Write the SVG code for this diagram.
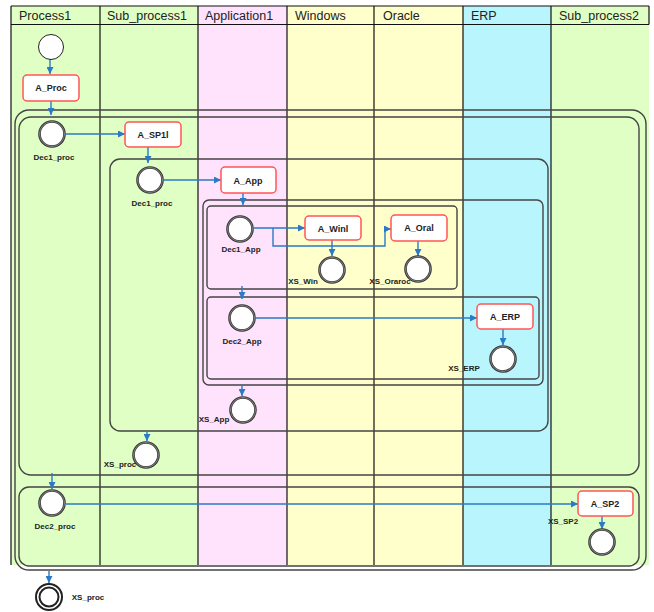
<svg xmlns="http://www.w3.org/2000/svg" width="654" height="612" viewBox="0 0 654 612">
<defs>
<style>
.hdr{font-family:"Liberation Sans",Arial,sans-serif;font-size:12.5px;fill:#222}
.lane{stroke:#111;stroke-width:1.2}
.grp{fill:none;stroke:#444;stroke-width:1.4}
.grp2{fill:none;stroke:#999;stroke-width:1}
.task rect{fill:#fff;stroke:#f55;stroke-width:1.5}
.task text{font-family:"Liberation Sans",Arial,sans-serif;font-size:9px;font-weight:bold;fill:#222;text-anchor:middle}
.ev{fill:#fff;stroke:#333;stroke-width:2.6}
.evi{fill:none;stroke:#999;stroke-width:0.8}
.lbl{font-family:"Liberation Sans",Arial,sans-serif;font-size:8px;font-weight:bold;fill:#222;text-anchor:middle}
.cn{fill:none;stroke:#2a7ac6;stroke-width:1.4}
</style>
<marker id="ah" viewBox="0 0 10 10" refX="10" refY="5" markerWidth="7" markerHeight="7" markerUnits="userSpaceOnUse" orient="auto"><path d="M0,0L10,5L0,10z" fill="#2a7ac6"/></marker>
</defs>
<rect width="654" height="612" fill="#fff"/>
<g id="lanes">
<rect x="11" y="6" width="89" height="559" fill="#e0ffc4"/>
<rect x="100" y="6" width="98" height="559" fill="#e0ffc4"/>
<rect x="198" y="6" width="89" height="559" fill="#ffe2fc"/>
<rect x="287" y="6" width="87" height="559" fill="#ffffcc"/>
<rect x="374" y="6" width="89" height="559" fill="#ffffcc"/>
<rect x="463" y="6" width="88" height="559" fill="#b9f5fc"/>
<rect x="551" y="6" width="98" height="559" fill="#e0ffc4"/>
<path class="lane" d="M11,6H649M11,24.5H649M11,6V565M100,6V565M198,6V565M287,6V565M374,6V565M463,6V565M551,6V565M649,6V24.5"/>
<text class="hdr" x="19" y="20">Process1</text>
<text class="hdr" x="107" y="20">Sub_process1</text>
<text class="hdr" x="205" y="20">Application1</text>
<text class="hdr" x="295" y="20">Windows</text>
<text class="hdr" x="383" y="20">Oracle</text>
<text class="hdr" x="471" y="20">ERP</text>
<text class="hdr" x="559" y="20">Sub_process2</text>
</g>
<g id="groups">
<rect class="grp" x="15" y="110" width="631" height="460" rx="14"/>
<rect class="grp" x="19" y="117" width="620" height="358" rx="12"/>
<rect class="grp" x="19" y="487" width="620" height="79" rx="10"/>
<rect class="grp" x="110" y="159" width="438" height="272" rx="10"/>
<rect class="grp" x="203" y="200" width="340" height="185" rx="6"/>
<rect class="grp" x="207" y="206" width="250" height="83" rx="4"/>
<rect class="grp" x="207" y="297" width="332" height="82" rx="4"/>
</g>
<g id="connectors">
<path class="cn" d="M50,59V74" marker-end="url(#ah)"/>
<path class="cn" d="M51,101V115" marker-end="url(#ah)"/>
<path class="cn" d="M66,134H125" marker-end="url(#ah)"/>
<path class="cn" d="M148,147V163" marker-end="url(#ah)"/>
<path class="cn" d="M164,180H221" marker-end="url(#ah)"/>
<path class="cn" d="M243,193V205" marker-end="url(#ah)"/>
<path class="cn" d="M254,228H305" marker-end="url(#ah)"/>
<path class="cn" d="M273,228V246H385V229H391" marker-end="url(#ah)"/>
<path class="cn" d="M332,240V256" marker-end="url(#ah)"/>
<path class="cn" d="M418,241V256" marker-end="url(#ah)"/>
<path class="cn" d="M242,286V299" marker-end="url(#ah)"/>
<path class="cn" d="M256,318H477" marker-end="url(#ah)"/>
<path class="cn" d="M503,329V345" marker-end="url(#ah)"/>
<path class="cn" d="M242,386V396" marker-end="url(#ah)"/>
<path class="cn" d="M147,432V441" marker-end="url(#ah)"/>
<path class="cn" d="M52,473V489" marker-end="url(#ah)"/>
<path class="cn" d="M66,504H578" marker-end="url(#ah)"/>
<path class="cn" d="M602,516V529" marker-end="url(#ah)"/>
<path class="cn" d="M49,571V583" marker-end="url(#ah)"/>
</g>
<g id="start"><circle cx="51" cy="47" r="12.5" fill="#fff" stroke="#222" stroke-width="1"/></g>
<g id="A_Proc" class="task"><rect x="23" y="75" width="56" height="26" rx="4"/><text x="51" y="91">A_Proc</text></g>
<g id="Dec1_proc_1"><circle class="ev" cx="52" cy="134" r="12.5"/><circle class="evi" cx="52" cy="134" r="12.5"/><text class="lbl" x="54" y="160">Dec1_proc</text></g>
<g id="A_SP1l" class="task"><rect x="125" y="122" width="56" height="25" rx="4"/><text x="153" y="138">A_SP1l</text></g>
<g id="Dec1_proc_2"><circle class="ev" cx="150" cy="180" r="12.5"/><circle class="evi" cx="150" cy="180" r="12.5"/><text class="lbl" x="152" y="206">Dec1_proc</text></g>
<g id="A_App" class="task"><rect x="221" y="167" width="55" height="26" rx="4"/><text x="248" y="184">A_App</text></g>
<g id="Dec1_App"><circle class="ev" cx="240" cy="229" r="12.5"/><circle class="evi" cx="240" cy="229" r="12.5"/><text class="lbl" x="241" y="252">Dec1_App</text></g>
<g id="A_Winl" class="task"><rect x="305" y="216" width="56" height="24" rx="4"/><text x="333" y="232">A_Winl</text></g>
<g id="XS_Win"><circle class="ev" cx="332" cy="270" r="12.5"/><circle class="evi" cx="332" cy="270" r="12.5"/><text class="lbl" x="303" y="284">XS_Win</text></g>
<g id="A_Oral" class="task"><rect x="391" y="215" width="56" height="26" rx="4"/><text x="419" y="231">A_Oral</text></g>
<g id="XS_Oraroc"><circle class="ev" cx="418" cy="269" r="12.5"/><circle class="evi" cx="418" cy="269" r="12.5"/><text class="lbl" x="390" y="284">XS_Oraroc</text></g>
<g id="Dec2_App"><circle class="ev" cx="242" cy="318" r="12.5"/><circle class="evi" cx="242" cy="318" r="12.5"/><text class="lbl" x="242" y="344">Dec2_App</text></g>
<g id="A_ERP" class="task"><rect x="477" y="304" width="56" height="25" rx="4"/><text x="505" y="320">A_ERP</text></g>
<g id="XS_ERP"><circle class="ev" cx="503" cy="359" r="12.5"/><circle class="evi" cx="503" cy="359" r="12.5"/><text class="lbl" x="464" y="371">XS_ERP</text></g>
<g id="XS_App"><circle class="ev" cx="243" cy="410" r="12.5"/><circle class="evi" cx="243" cy="410" r="12.5"/><text class="lbl" x="214" y="422">XS_App</text></g>
<g id="XS_proc_1"><circle class="ev" cx="146" cy="455" r="12.5"/><circle class="evi" cx="146" cy="455" r="12.5"/><text class="lbl" x="120" y="467">XS_proc</text></g>
<g id="Dec2_proc"><circle class="ev" cx="52" cy="503" r="12.5"/><circle class="evi" cx="52" cy="503" r="12.5"/><text class="lbl" x="55" y="529">Dec2_proc</text></g>
<g id="A_SP2" class="task"><rect x="578" y="491" width="55" height="25" rx="4"/><text x="605" y="507">A_SP2</text></g>
<g id="XS_SP2"><circle class="ev" cx="602" cy="542" r="12.5"/><circle class="evi" cx="602" cy="542" r="12.5"/><text class="lbl" x="563" y="524">XS_SP2</text></g>
<g id="XS_proc_end"><circle cx="49" cy="597" r="13" fill="#fff" stroke="#222" stroke-width="2"/><circle cx="49" cy="597" r="9.5" fill="none" stroke="#222" stroke-width="2"/><text class="lbl" x="88" y="600">XS_proc</text></g>
</svg>
